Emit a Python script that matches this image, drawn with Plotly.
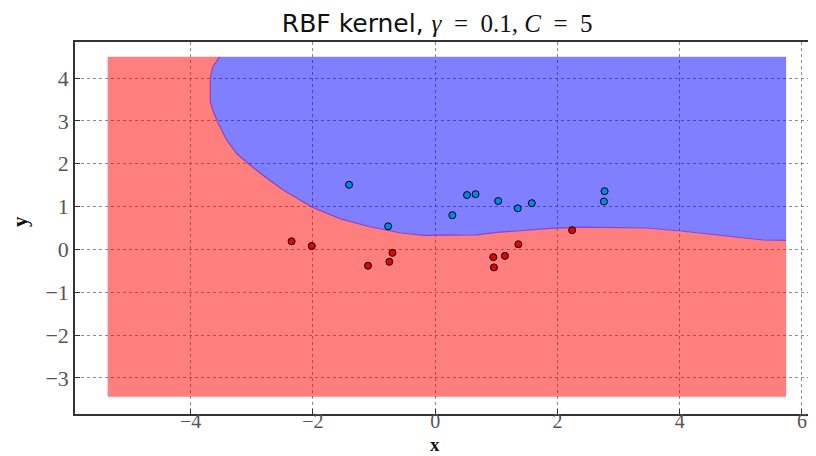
import plotly.graph_objects as go

# data points
blue_x = [-1.41, -0.77, 0.28, 0.52, 0.66, 1.03, 1.35, 1.58, 2.77, 2.76]
blue_y = [1.51, 0.54, 0.80, 1.27, 1.29, 1.13, 0.96, 1.08, 1.36, 1.12]
red_x = [-2.35, -2.02, -1.10, -0.75, -0.70, 0.95, 0.96, 1.14, 1.36, 2.24]
red_y = [0.19, 0.08, -0.38, -0.29, -0.08, -0.18, -0.42, -0.15, 0.12, 0.45]

# decision boundary, from top edge to right edge
bound_x = [-3.53, -3.64, -3.68, -3.68, -3.63, -3.55, -3.41, -3.25, -3.03, -2.78,
           -2.48, -2.02, -1.56, -1.07, -0.58, -0.19, 0.68, 1.01, 1.33, 1.88,
           2.37, 3.46, 4.01, 4.66, 5.37, 5.74]
bound_y = [4.50, 4.26, 4.01, 3.44, 3.21, 2.94, 2.55, 2.24, 1.97, 1.69,
           1.38, 0.99, 0.72, 0.53, 0.39, 0.33, 0.34, 0.40, 0.43, 0.49,
           0.52, 0.50, 0.43, 0.33, 0.22, 0.21]

# mesh extents
mesh_x = [-5.36, 5.74]
mesh_y = [-3.44, 4.50]

x_ticks = [-4, -2, 0, 2, 4, 6]
y_ticks = [-3, -2, -1, 0, 1, 2, 3, 4]

xmin, xmax = mesh_x
ymin, ymax = mesh_y

blue_poly_x = bound_x + [xmax, bound_x[0]]
blue_poly_y = bound_y + [ymax, bound_y[0]]

red_poly_x = [xmin, xmax] + bound_x[::-1] + [xmin, xmin]
red_poly_y = [ymin, ymin] + bound_y[::-1] + [ymax, ymin]

fig = go.Figure()
fig.add_trace(go.Scatter(x=red_poly_x, y=red_poly_y, mode="lines", fill="toself",
                         fillcolor="rgba(255,0,0,0.5)", line=dict(width=0),
                         hoverinfo="skip", showlegend=False))
fig.add_trace(go.Scatter(x=blue_poly_x, y=blue_poly_y, mode="lines", fill="toself",
                         fillcolor="rgba(0,0,255,0.5)", line=dict(width=0),
                         hoverinfo="skip", showlegend=False))
fig.add_trace(go.Scatter(x=bound_x, y=bound_y, mode="lines",
                         line=dict(color="rgba(130,60,210,0.9)", width=1.2),
                         hoverinfo="skip", showlegend=False))
fig.add_trace(go.Scatter(x=blue_x, y=blue_y, mode="markers",
                         marker=dict(size=7, color="rgb(0,136,232)",
                                     line=dict(color="black", width=1)),
                         showlegend=False))
fig.add_trace(go.Scatter(x=red_x, y=red_y, mode="markers",
                         marker=dict(size=7, color="rgb(230,0,0)",
                                     line=dict(color="black", width=1)),
                         showlegend=False))

serif = "Liberation Serif, DejaVu Serif, serif"
grid_col = "rgba(90,90,90,0.7)"
title_text = ("RBF kernel, <span style='font-family:Liberation Serif'>"
              "<i>γ</i>&nbsp; = &nbsp;0.1,&nbsp;<i>C</i>&nbsp; = &nbsp;5</span>")
fig.update_layout(
    width=816, height=456,
    margin=dict(l=67, r=0, t=34, b=50, autoexpand=False),
    paper_bgcolor="white", plot_bgcolor="white",
    title=dict(
        text=title_text,
        x=0.526, xanchor="center", y=0.966, yanchor="middle",
        font=dict(family="DejaVu Sans, sans-serif", size=25, color="#111"),
    ),
    xaxis=dict(
        range=[-5.893, 6.36], tickvals=x_ticks, automargin=False,
        ticktext=["−4", "−2", "0", "2", "4", "6"],
        showgrid=True, gridcolor=grid_col, griddash="dot", gridwidth=1,
        zeroline=False, showline=True, linecolor="#333", linewidth=1.5, mirror=True,
        ticks="inside", ticklen=5, tickcolor="#333", ticklabelstandoff=-12,
        tickfont=dict(family=serif, size=20, color="#555"),
    ),
    yaxis=dict(
        range=[-3.843, 4.844], tickvals=y_ticks, automargin=False,
        ticktext=["−3", "−2", "−1", "0", "1", "2", "3", "4"],
        showgrid=True, gridcolor=grid_col, griddash="dot", gridwidth=1,
        zeroline=False, showline=True, linecolor="#333", linewidth=1.5,
        ticks="inside", ticklen=5, tickcolor="#333",
        tickfont=dict(family=serif, size=22, color="#555"),
    ),
    annotations=[
        dict(text="<b>x</b>", xref="x", x=0, yref="paper", y=-0.083,
             xanchor="center", yanchor="middle", showarrow=False,
             font=dict(family=serif, size=19, color="#111")),
        dict(text="<b>y</b>", xref="paper", x=-0.0734, yref="y", y=0.64,
             xanchor="center", yanchor="middle", showarrow=False, textangle=-90,
             font=dict(family=serif, size=21, color="#111")),
    ],
)

fig.write_html("out.html")
